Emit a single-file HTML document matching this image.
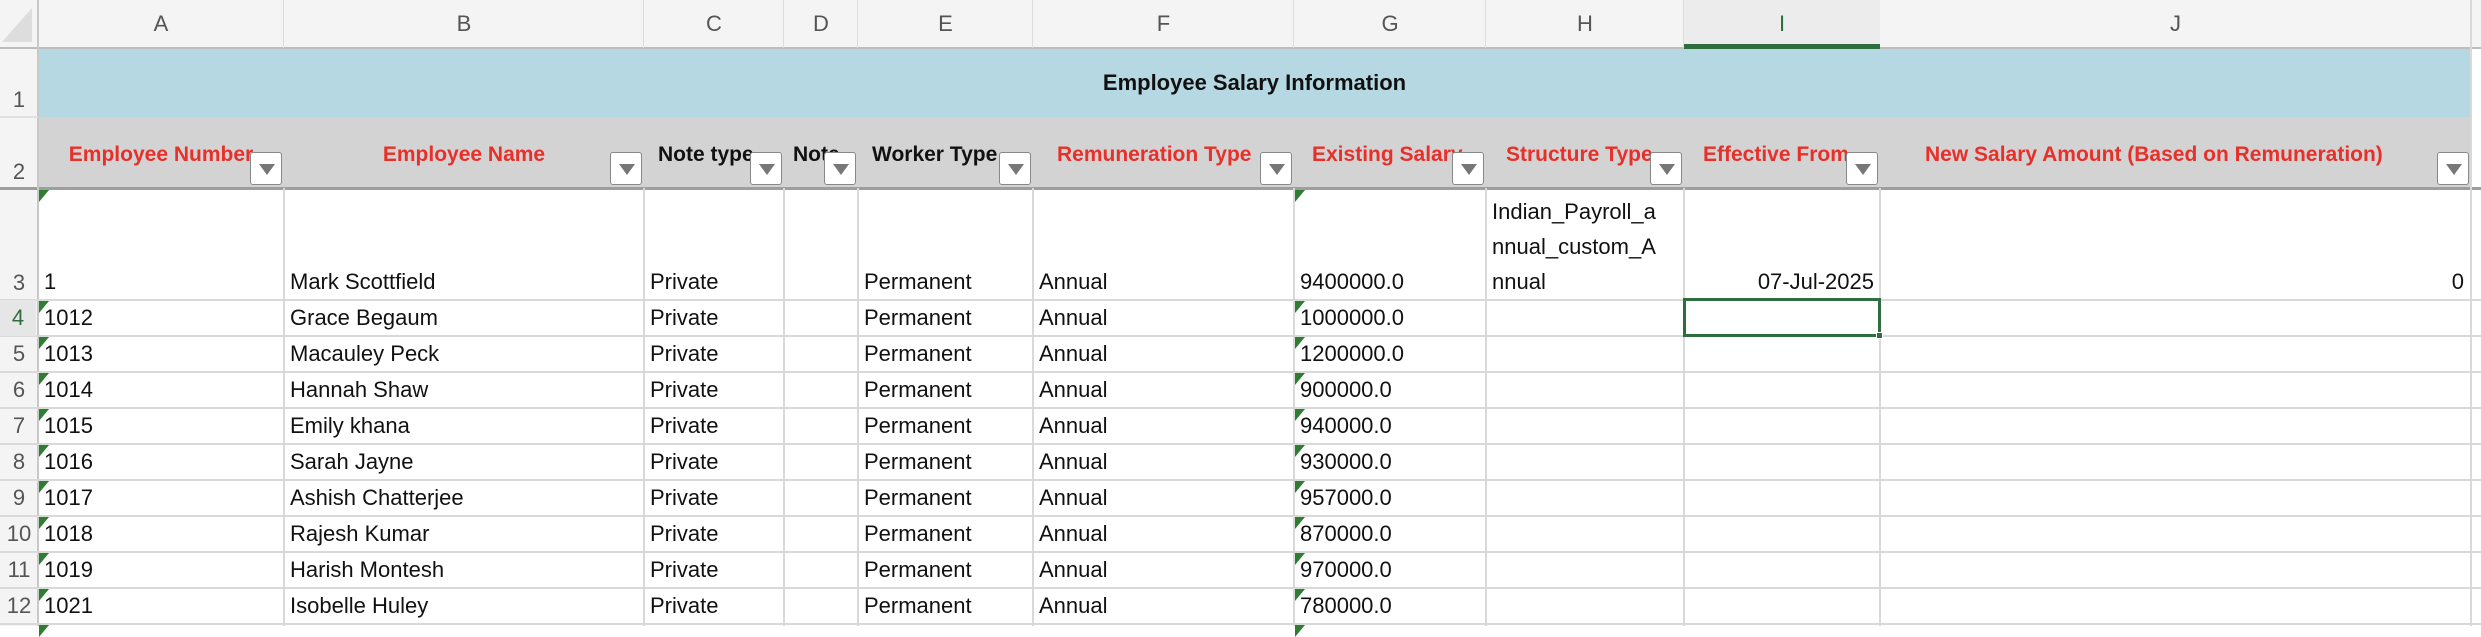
<!DOCTYPE html>
<html><head><meta charset="utf-8"><style>
*{margin:0;padding:0;box-sizing:border-box}
body{width:2481px;height:626px;overflow:hidden;background:#fff;font-family:"Liberation Sans",Arial,sans-serif;position:relative}
.a{position:absolute}
.vl{position:absolute;top:48px;bottom:0;width:2px;background:#d9d9d9}
.hl{position:absolute;left:0;right:0;height:2px;background:#d9d9d9}
.colh{position:absolute;top:0;height:48px;font-size:22px;color:#555;text-align:center;line-height:48px}
.rn{position:absolute;left:0;width:38px;font-size:22px;color:#555;text-align:center;line-height:36px}
.hd{position:absolute;top:117px;height:71px;line-height:76px;font-size:21px;font-weight:bold;color:#e8302a;text-align:center;overflow:hidden;white-space:nowrap}
.blk{color:#111}
.btn{position:absolute;top:152px;width:32px;height:33px;background:#fff;border:1px solid #888;border-radius:3px}
.btn:after{content:"";position:absolute;left:8px;top:11px;border-left:8px solid transparent;border-right:8px solid transparent;border-top:11px solid #777}
.c{position:absolute;font-size:22px;color:#111;line-height:36px;white-space:nowrap;padding-left:6px}
.tri{position:absolute;width:0;height:0;border-top:12px solid #2f7d32;border-right:10px solid transparent}
</style></head><body>
<!-- column header bar -->
<div class="a" style="left:0;top:0;width:2481px;height:48px;background:#f4f4f4"></div>
<div class="a" style="left:0;top:0;width:38px;height:626px;background:#f4f4f4"></div>
<div class="a" style="left:2px;top:8px;width:0;height:0;border-bottom:34px solid #ddd;border-left:30px solid transparent"></div>
<!-- row1/row2 fills -->
<div class="a" style="left:38px;top:48px;width:2433px;height:69px;background:#b6d8e3"></div>
<div class="a" style="left:38px;top:117px;width:2433px;height:71px;background:#d3d3d3"></div>
<div class="a" style="left:0;top:47px;width:2481px;height:2px;background:#bdbdbd"></div>
<div class="a" style="left:0;top:187px;width:2481px;height:3px;background:#9e9e9e"></div>
<!-- vertical lines -->
<div class="a" style="left:37px;top:0;width:2px;height:626px;background:#c8c8c8"></div>
<div class="vl" style="left:283px;top:188px"></div><div class="vl" style="left:643px;top:188px"></div>
<div class="vl" style="left:783px;top:188px"></div><div class="vl" style="left:857px;top:188px"></div>
<div class="vl" style="left:1032px;top:188px"></div><div class="vl" style="left:1293px;top:188px"></div>
<div class="vl" style="left:1485px;top:188px"></div><div class="vl" style="left:1683px;top:188px"></div>
<div class="vl" style="left:1879px;top:188px"></div><div class="vl" style="left:2470px;top:0"></div>
<!-- header column separators -->
<div class="a" style="left:283px;top:0;width:1px;height:48px;background:#ddd"></div>
<div class="a" style="left:643px;top:0;width:1px;height:48px;background:#ddd"></div>
<div class="a" style="left:783px;top:0;width:1px;height:48px;background:#ddd"></div>
<div class="a" style="left:857px;top:0;width:1px;height:48px;background:#ddd"></div>
<div class="a" style="left:1032px;top:0;width:1px;height:48px;background:#ddd"></div>
<div class="a" style="left:1293px;top:0;width:1px;height:48px;background:#ddd"></div>
<div class="a" style="left:1485px;top:0;width:1px;height:48px;background:#ddd"></div>
<div class="a" style="left:1683px;top:0;width:1px;height:48px;background:#ddd"></div>
<div class="a" style="left:1879px;top:0;width:1px;height:48px;background:#ddd"></div>
<div class="a" style="left:1684px;top:0;width:196px;height:48px;background:#ececec"></div>
<div class="a" style="left:1684px;top:44px;width:196px;height:5px;background:#2e6e3e"></div>
<!-- horizontal lines -->
<div class="hl" style="top:299px"></div><div class="hl" style="top:335px"></div>
<div class="hl" style="top:371px"></div><div class="hl" style="top:407px"></div>
<div class="hl" style="top:443px"></div><div class="hl" style="top:479px"></div>
<div class="hl" style="top:515px"></div><div class="hl" style="top:551px"></div>
<div class="hl" style="top:587px"></div><div class="hl" style="top:623px"></div>
<div class="hl" style="top:116px;left:0;width:38px;background:#e0e0e0"></div>
<!-- column letters -->
<div class="colh" style="left:38px;width:246px">A</div>
<div class="colh" style="left:284px;width:360px">B</div>
<div class="colh" style="left:644px;width:140px">C</div>
<div class="colh" style="left:784px;width:74px">D</div>
<div class="colh" style="left:858px;width:175px">E</div>
<div class="colh" style="left:1033px;width:261px">F</div>
<div class="colh" style="left:1294px;width:192px">G</div>
<div class="colh" style="left:1486px;width:198px">H</div>
<div class="colh" style="left:1684px;width:196px;color:#2e6e3e">I</div>
<div class="colh" style="left:1880px;width:591px">J</div>
<!-- row numbers -->
<div class="rn" style="top:82px">1</div>
<div class="rn" style="top:154px">2</div>
<div class="rn" style="top:265px">3</div>
<div class="rn" style="top:300px;color:#2e6e3e;background:#e6e6e6;width:36px">4</div>
<div class="rn" style="top:336px">5</div><div class="rn" style="top:372px">6</div>
<div class="rn" style="top:408px">7</div><div class="rn" style="top:444px">8</div>
<div class="rn" style="top:480px">9</div><div class="rn" style="top:516px">10</div>
<div class="rn" style="top:552px">11</div><div class="rn" style="top:588px">12</div>
<!-- title -->
<div class="a" style="left:38px;top:48px;width:2433px;height:69px;line-height:69px;text-align:center;font-size:22px;font-weight:bold;color:#111">Employee Salary Information</div>
<!-- headers -->
<div class="hd" style="left:38px;width:246px">Employee Number</div>
<div class="hd" style="left:284px;width:360px">Employee Name</div>
<div class="hd blk" style="left:644px;width:140px;text-align:left;padding-left:14px">Note type</div>
<div class="hd blk" style="left:784px;width:74px;text-align:left;padding-left:9px">Note</div>
<div class="hd blk" style="left:858px;width:175px;text-align:left;padding-left:14px">Worker Type</div>
<div class="hd" style="left:1033px;width:261px;text-align:left;padding-left:24px">Remuneration Type</div>
<div class="hd" style="left:1294px;width:192px;text-align:left;padding-left:18px">Existing Salary</div>
<div class="hd" style="left:1486px;width:198px;text-align:left;padding-left:20px">Structure Type</div>
<div class="hd" style="left:1684px;width:196px;text-align:left;padding-left:19px">Effective From</div>
<div class="hd" style="left:1880px;width:591px;text-align:left;padding-left:45px">New Salary Amount (Based on Remuneration)</div>
<div class="btn" style="left:250px"></div><div class="btn" style="left:610px"></div>
<div class="btn" style="left:750px"></div><div class="btn" style="left:824px"></div>
<div class="btn" style="left:999px"></div><div class="btn" style="left:1260px"></div>
<div class="btn" style="left:1452px"></div><div class="btn" style="left:1650px"></div>
<div class="btn" style="left:1846px"></div><div class="btn" style="left:2437px"></div>
<!-- row 3 -->
<div class="c" style="left:38px;top:264px">1</div>
<div class="c" style="left:284px;top:264px">Mark Scottfield</div>
<div class="c" style="left:644px;top:264px">Private</div>
<div class="c" style="left:858px;top:264px">Permanent</div>
<div class="c" style="left:1033px;top:264px">Annual</div>
<div class="c" style="left:1294px;top:264px">9400000.0</div>
<div class="c" style="left:1486px;top:194px">Indian_Payroll_a</div>
<div class="c" style="left:1486px;top:229px">nnual_custom_A</div>
<div class="c" style="left:1486px;top:264px">nnual</div>
<div class="c" style="left:1684px;top:264px;width:194px;text-align:right;padding-right:4px">07-Jul-2025</div>
<div class="c" style="left:1880px;top:264px;width:590px;text-align:right;padding-right:6px">0</div>
<div class="tri" style="left:39px;top:190px"></div><div class="tri" style="left:1295px;top:190px"></div>
<!-- data rows -->
<div class="c" style="left:38px;top:300px">1012</div><div class="c" style="left:284px;top:300px">Grace Begaum</div><div class="c" style="left:644px;top:300px">Private</div><div class="c" style="left:858px;top:300px">Permanent</div><div class="c" style="left:1033px;top:300px">Annual</div><div class="c" style="left:1294px;top:300px">1000000.0</div>
<div class="c" style="left:38px;top:336px">1013</div><div class="c" style="left:284px;top:336px">Macauley Peck</div><div class="c" style="left:644px;top:336px">Private</div><div class="c" style="left:858px;top:336px">Permanent</div><div class="c" style="left:1033px;top:336px">Annual</div><div class="c" style="left:1294px;top:336px">1200000.0</div>
<div class="c" style="left:38px;top:372px">1014</div><div class="c" style="left:284px;top:372px">Hannah Shaw</div><div class="c" style="left:644px;top:372px">Private</div><div class="c" style="left:858px;top:372px">Permanent</div><div class="c" style="left:1033px;top:372px">Annual</div><div class="c" style="left:1294px;top:372px">900000.0</div>
<div class="c" style="left:38px;top:408px">1015</div><div class="c" style="left:284px;top:408px">Emily khana</div><div class="c" style="left:644px;top:408px">Private</div><div class="c" style="left:858px;top:408px">Permanent</div><div class="c" style="left:1033px;top:408px">Annual</div><div class="c" style="left:1294px;top:408px">940000.0</div>
<div class="c" style="left:38px;top:444px">1016</div><div class="c" style="left:284px;top:444px">Sarah Jayne</div><div class="c" style="left:644px;top:444px">Private</div><div class="c" style="left:858px;top:444px">Permanent</div><div class="c" style="left:1033px;top:444px">Annual</div><div class="c" style="left:1294px;top:444px">930000.0</div>
<div class="c" style="left:38px;top:480px">1017</div><div class="c" style="left:284px;top:480px">Ashish Chatterjee</div><div class="c" style="left:644px;top:480px">Private</div><div class="c" style="left:858px;top:480px">Permanent</div><div class="c" style="left:1033px;top:480px">Annual</div><div class="c" style="left:1294px;top:480px">957000.0</div>
<div class="c" style="left:38px;top:516px">1018</div><div class="c" style="left:284px;top:516px">Rajesh Kumar</div><div class="c" style="left:644px;top:516px">Private</div><div class="c" style="left:858px;top:516px">Permanent</div><div class="c" style="left:1033px;top:516px">Annual</div><div class="c" style="left:1294px;top:516px">870000.0</div>
<div class="c" style="left:38px;top:552px">1019</div><div class="c" style="left:284px;top:552px">Harish Montesh</div><div class="c" style="left:644px;top:552px">Private</div><div class="c" style="left:858px;top:552px">Permanent</div><div class="c" style="left:1033px;top:552px">Annual</div><div class="c" style="left:1294px;top:552px">970000.0</div>
<div class="c" style="left:38px;top:588px">1021</div><div class="c" style="left:284px;top:588px">Isobelle Huley</div><div class="c" style="left:644px;top:588px">Private</div><div class="c" style="left:858px;top:588px">Permanent</div><div class="c" style="left:1033px;top:588px">Annual</div><div class="c" style="left:1294px;top:588px">780000.0</div>
<div class="tri" style="left:39px;top:301px"></div><div class="tri" style="left:1295px;top:301px"></div>
<div class="tri" style="left:39px;top:337px"></div><div class="tri" style="left:1295px;top:337px"></div>
<div class="tri" style="left:39px;top:373px"></div><div class="tri" style="left:1295px;top:373px"></div>
<div class="tri" style="left:39px;top:409px"></div><div class="tri" style="left:1295px;top:409px"></div>
<div class="tri" style="left:39px;top:445px"></div><div class="tri" style="left:1295px;top:445px"></div>
<div class="tri" style="left:39px;top:481px"></div><div class="tri" style="left:1295px;top:481px"></div>
<div class="tri" style="left:39px;top:517px"></div><div class="tri" style="left:1295px;top:517px"></div>
<div class="tri" style="left:39px;top:553px"></div><div class="tri" style="left:1295px;top:553px"></div>
<div class="tri" style="left:39px;top:589px"></div><div class="tri" style="left:1295px;top:589px"></div>
<div class="tri" style="left:39px;top:625px"></div><div class="tri" style="left:1295px;top:625px"></div>
<!-- selection -->
<div class="a" style="left:1683px;top:298px;width:198px;height:39px;border:3px solid #2e6e3e"></div>
<div class="a" style="left:1876px;top:332px;width:7px;height:7px;background:#2e6e3e;border:1px solid #fff"></div>
</body></html>
